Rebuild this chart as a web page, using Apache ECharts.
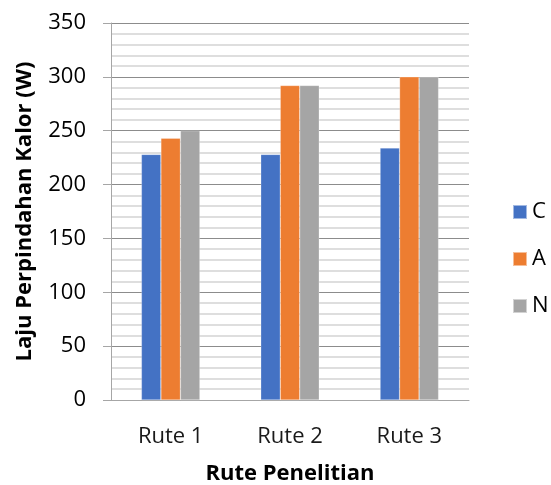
<!DOCTYPE html>
<html><head><meta charset="utf-8">
<script src="https://cdn.jsdelivr.net/npm/echarts@6/dist/echarts.min.js"></script>
<style>html,body{margin:0;padding:0;background:#fff}#c{width:551px;height:485px}</style>
</head><body><div id="c"></div>
<script>
const categories = ['Rute 1', 'Rute 2', 'Rute 3'];
const seriesC = [228, 228, 234];
const seriesA = [243, 292, 300];
const seriesN = [250, 292, 300];
const seriesNames = ['C', 'A', 'N'];
const colors = ['#4472C4', '#ED7D31', '#A5A5A5'];
const font = '"Open Sans", "Noto Sans", sans-serif';
const chart = echarts.init(document.getElementById('c'));
const mk = (name, data, i) => ({
  name, type: 'bar', data, barWidth: 19.5, barGap: '0%',
  itemStyle: { color: colors[i], borderColor: 'rgba(255,255,255,0.5)', borderWidth: 0.5 },
  animation: false
});
chart.setOption({
  animation: false,
  grid: { left: 111, top: 23, right: 82, bottom: 85, containLabel: false, outerBoundsMode: 'none' },
  legend: {
    orient: 'vertical', left: 512, top: 201, padding: 0, itemWidth: 14, itemHeight: 14, itemGap: 25,
    icon: 'rect', data: seriesNames,
    textStyle: { fontFamily: font, fontSize: 22, color: '#000' }
  },
  xAxis: {
    type: 'category', data: categories,
    axisLine: { lineStyle: { color: '#a6a6a6', width: 1 } },
    axisTick: { show: false },
    axisLabel: { fontFamily: font, fontSize: 22, color: '#1a1a1a', margin: 26 },
    name: 'Rute Penelitian', nameLocation: 'middle', nameGap: 63,
    nameTextStyle: { fontFamily: font, fontSize: 22, fontWeight: 'bold', color: '#000' }
  },
  yAxis: {
    type: 'value', min: 0, max: 350, interval: 50,
    axisLine: { show: true, lineStyle: { color: '#a6a6a6', width: 1 } },
    axisTick: { show: true, length: 8, lineStyle: { color: '#a6a6a6' } },
    axisLabel: { fontFamily: font, fontSize: 22, color: '#000', margin: 25 },
    splitLine: { show: true, lineStyle: { color: '#8c8c8c', width: 1 } },
    minorTick: { show: false, splitNumber: 5 },
    minorSplitLine: { show: true, lineStyle: { color: '#d4d4d4', width: 1.5 } },
    name: 'Laju Perpindahan Kalor (W)', nameLocation: 'middle', nameGap: 75, nameRotate: 90,
    nameTextStyle: { fontFamily: font, fontSize: 22, fontWeight: 'bold', color: '#000' }
  },
  series: [mk('C', seriesC, 0), mk('A', seriesA, 1), mk('N', seriesN, 2)]
});
</script></body></html>
